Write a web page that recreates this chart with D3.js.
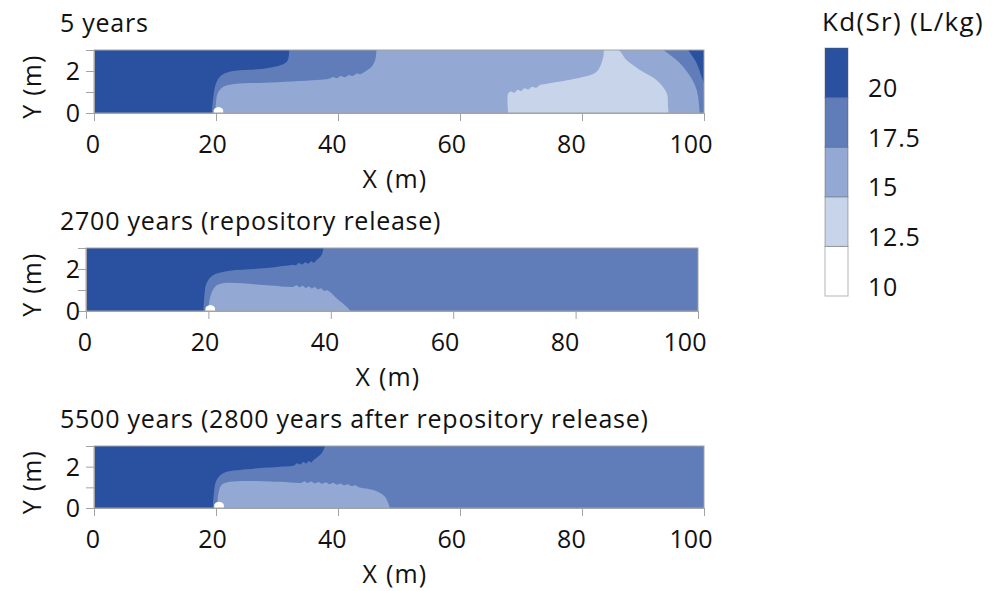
<!DOCTYPE html>
<html>
<head>
<meta charset="utf-8">
<script src="https://cdn.jsdelivr.net/npm/d3@7"></script>
<style>
  html, body { margin: 0; padding: 0; background: #fff; }
  svg { display: block; font-family: "Open Sans", "Noto Sans", sans-serif; }
</style>
</head>
<body>
<svg id="chart" width="1008" height="591"></svg>
<script>
// Kd(Sr) classes: five bands between these thresholds (L/kg)
const kdThresholds = [10, 12.5, 15, 17.5, 20, 22.5];
const kdColors = ["#ffffff", "#c8d4e9", "#93a8d3", "#607dba", "#2a51a0"];
const legendLabels = [20, 17.5, 15, 12.5, 10];

const xTicks = [0, 20, 40, 60, 80, 100];
const yTicks = [0, 1, 2, 3];
const yTickLabels = [0, 2];

// Contour regions per time step, as boundary points in (X m, Y m).
// "band" indexes kdColors; "close" lists the domain corners that finish the polygon.
const regions5yr = [
  { band: 3, edge: [[19.9,0],[20.0,0.5],[20.3,0.95],[21.2,1.25],[23,1.38],[28,1.44],[36.5,1.57],[38.5,1.63],[39.2,1.72],[39.8,1.66],[40.5,1.76],[41.1,1.70],[41.8,1.81],[42.4,1.76],[43.1,1.88],[43.6,1.85],[44.6,2.0],[45.5,2.2],[46.1,2.52],[46.3,3]], close: [[0,3],[0,0]] },
  { band: 4, edge: [[32.0,3],[31.6,2.44],[28.3,2.13],[22.8,2.0],[20.9,1.8],[20.0,1.41],[19.5,0.62],[19.3,0]], close: [[0,0],[0,3]] },
  { band: 1, edge: [[67.9,0],[67.9,0.94],[68.4,1.02],[68.9,0.96],[69.4,1.10],[70.0,1.05],[70.6,1.18],[71.2,1.12],[71.8,1.25],[72.5,1.20],[73.1,1.33],[74.5,1.41],[78.6,1.62],[82.4,1.97],[83.5,2.68],[83.7,3],[85.95,3],[87.3,2.52],[89.5,2.05],[92.2,1.57],[93.9,0.94],[94.1,0.3],[94.2,0]], close: [] },
  { band: 3, edge: [[93.3,3],[95.5,2.52],[97.4,1.89],[98.8,1.1],[99.3,0]], close: [[100,0],[100,3]] },
  { band: 4, edge: [[97.4,3],[98.8,2.37],[99.6,1.73],[100,1.43]], close: [[100,3]] },
  { band: 0, edge: [[19.6,0],[19.7,0.18],[20.4,0.28],[21.1,0.18],[21.2,0]], close: [] }
];
const regions2700yr = [
  { band: 4, edge: [[38.8,3],[38.5,2.67],[37.7,2.43],[37.2,2.30],[36.8,2.37],[36.3,2.25],[35.8,2.32],[35.3,2.21],[34.8,2.28],[34.3,2.18],[33.9,2.19],[29,2.03],[23.5,1.92],[20.8,1.71],[19.7,1.32],[19.3,0.52],[19.2,0]], close: [[0,0],[0,3]] },
  { band: 2, edge: [[20.0,0],[20.3,0.68],[21.1,1.16],[22.4,1.32],[29,1.24],[33.9,1.16],[34.4,1.23],[34.9,1.13],[35.4,1.20],[35.9,1.10],[36.4,1.17],[36.9,1.07],[37.4,1.14],[37.9,1.03],[38.4,1.08],[38.9,0.96],[39.5,0.98],[41,0.6],[42.6,0.2],[43.2,0]], close: [] },
  { band: 0, edge: [[19.5,0],[19.6,0.18],[20.3,0.28],[21.0,0.18],[21.1,0]], close: [] }
];
const regions5500yr = [
  { band: 4, edge: [[37.9,3],[37.3,2.64],[36,2.32],[35.6,2.20],[35.2,2.28],[34.8,2.15],[34.3,2.22],[33.8,2.10],[33.3,2.16],[32.8,2.06],[30.5,2.0],[25,1.87],[21.2,1.68],[20.1,1.35],[19.6,0.55],[19.5,0]], close: [[0,0],[0,3]] },
  { band: 2, edge: [[20.2,0],[20.4,0.71],[20.9,1.11],[22.3,1.27],[30.5,1.27],[34.0,1.22],[34.5,1.30],[35.0,1.21],[35.6,1.28],[36.2,1.19],[36.8,1.26],[37.4,1.17],[38.0,1.24],[38.6,1.15],[39.2,1.22],[39.8,1.13],[40.4,1.19],[41.0,1.10],[41.6,1.15],[42.2,1.06],[42.8,1.10],[43.4,1.01],[45.8,0.87],[47.7,0.55],[48.5,0]], close: [] },
  { band: 0, edge: [[19.7,0],[19.8,0.2],[20.5,0.3],[21.2,0.2],[21.3,0]], close: [] }
];

const panels = [
  { title: "5 years", background: 2, regions: regions5yr, box: { left: 94, right: 704, top: 50, bottom: 113 } },
  { title: "2700 years (repository release)", background: 3, regions: regions2700yr, box: { left: 86, right: 698, top: 248, bottom: 311 } },
  { title: "5500 years (2800 years after repository release)", background: 3, regions: regions5500yr, box: { left: 94, right: 704, top: 446, bottom: 508 } }
];

const svg = d3.select("#chart");
const frameColor = "#a3a3a3";
const textColor = "#111";

panels.forEach((p, i) => {
  const b = p.box;
  const x = d3.scaleLinear().domain([0, 100]).range([b.left, b.right]);
  const y = d3.scaleLinear().domain([0, 3]).range([b.bottom, b.top]);
  // tick labels sit on a slightly tighter spacing than the tick marks
  const xLabel = d3.scaleLinear().domain([0, 100]).range([b.left - 1, b.right - 13]);

  const g = svg.append("g");
  const clipId = "clip" + i;
  svg.append("clipPath").attr("id", clipId)
    .append("rect").attr("x", b.left).attr("y", b.top)
    .attr("width", b.right - b.left).attr("height", b.bottom - b.top);

  const field = g.append("g").attr("clip-path", `url(#${clipId})`);
  field.append("rect")
    .attr("x", x(0)).attr("y", y(3))
    .attr("width", x(100) - x(0)).attr("height", y(0) - y(3))
    .attr("fill", kdColors[p.background]);

  const boundary = d3.line().x(d => x(d[0])).y(d => y(d[1])).curve(d3.curveCatmullRom.alpha(0.5));
  field.selectAll("path.region").data(p.regions).join("path")
    .attr("class", "region")
    .attr("fill", d => kdColors[d.band])
    .attr("d", d => boundary(d.edge) + d.close.map(c => `L${x(c[0])},${y(c[1])}`).join("") + "Z");

  // frame
  g.append("rect")
    .attr("x", x(0)).attr("y", y(3))
    .attr("width", x(100) - x(0)).attr("height", y(0) - y(3))
    .attr("fill", "none").attr("stroke", frameColor).attr("stroke-width", 1);

  // axes: tick marks only, labels drawn separately
  const ax = g.append("g").attr("transform", `translate(0,${b.bottom})`)
    .call(d3.axisBottom(x).tickValues(xTicks).tickSize(8).tickSizeOuter(0).tickFormat(""));
  const ay = g.append("g").attr("transform", `translate(${b.left},0)`)
    .call(d3.axisLeft(y).tickValues(yTicks).tickSize(8).tickSizeOuter(0).tickFormat(""));
  [ax, ay].forEach(a => {
    a.select(".domain").attr("stroke", frameColor);
    a.selectAll(".tick line").attr("stroke", frameColor);
  });

  g.selectAll("text.xt").data(xTicks).join("text")
    .attr("class", "xt")
    .attr("x", d => xLabel(d)).attr("y", b.bottom + 40)
    .attr("text-anchor", "middle").attr("font-size", 25).attr("fill", textColor)
    .text(d => d);

  g.selectAll("text.yt").data(yTickLabels).join("text")
    .attr("class", "yt")
    .attr("x", 80).attr("y", d => y(d) + 9)
    .attr("text-anchor", "end").attr("font-size", 25).attr("fill", textColor)
    .text(d => d);

  g.append("text")
    .attr("x", (b.left + b.right) / 2 - 4).attr("y", b.bottom + 75)
    .attr("text-anchor", "middle").attr("font-size", 25).attr("letter-spacing", 1.2).attr("fill", textColor)
    .text("X (m)");

  g.append("text")
    .attr("transform", `translate(41,${(b.top + b.bottom) / 2 + 5}) rotate(-90)`)
    .attr("text-anchor", "middle").attr("font-size", 25).attr("letter-spacing", 1.2).attr("fill", textColor)
    .text("Y (m)");

  g.append("text")
    .attr("x", 60).attr("y", b.top - 18)
    .attr("font-size", 25).attr("letter-spacing", 0.75).attr("fill", textColor)
    .text(p.title);
});

// colour legend
const legend = svg.append("g");
const ly = d3.scaleLinear().domain([10, 22.5]).range([296, 48]);
const bands = d3.range(kdColors.length).map(k => ({ lo: kdThresholds[k], hi: kdThresholds[k + 1], color: kdColors[k] }));
legend.selectAll("rect.band").data(bands).join("rect")
  .attr("class", "band")
  .attr("x", 825).attr("width", 23)
  .attr("y", d => ly(d.hi)).attr("height", d => ly(d.lo) - ly(d.hi))
  .attr("fill", d => d.color)
  .attr("stroke", "rgba(90,90,90,0.45)").attr("stroke-width", 1);
legend.selectAll("text.lab").data(legendLabels).join("text")
  .attr("class", "lab")
  .attr("x", 868).attr("y", d => ly(d) - 0.5)
  .attr("font-size", 25).attr("letter-spacing", 0.8).attr("fill", textColor)
  .text(d => d);
legend.append("text")
  .attr("x", 822).attr("y", 31)
  .attr("font-size", 26).attr("letter-spacing", 1.3).attr("fill", textColor)
  .text("Kd(Sr) (L/kg)");
</script>
</body>
</html>
